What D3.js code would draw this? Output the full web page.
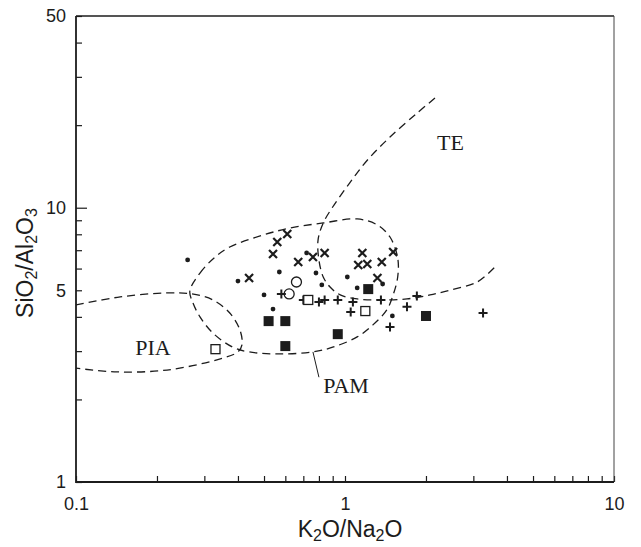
<!DOCTYPE html>
<html>
<head>
<meta charset="utf-8">
<script src="https://cdn.jsdelivr.net/npm/d3@7"></script>
<style>
  body { margin: 0; background: #fff; }
  svg { display: block; }
</style>
</head>
<body>
<svg id="chart"></svg>
<script>
// axis ticks
const xTickValues = [0.1, 0.2, 0.3, 0.4, 0.5, 0.6, 0.7, 0.8, 0.9, 1, 2, 3, 4, 5, 6, 7, 8, 9, 10];
const xTickLabels = [0.1, 1, 10];
const yTickValues = [1, 2, 3, 4, 5, 6, 7, 8, 9, 10, 20, 30, 40, 50];
const yTickLabels = [1, 5, 10, 50];

// samples: [K2O/Na2O, SiO2/Al2O3]
const dots = [
  [0.26, 6.45], [0.40, 5.40], [0.57, 5.83], [0.50, 4.81], [0.54, 4.27], [0.72, 6.84],
  [0.78, 5.78], [0.82, 5.23], [1.02, 5.59], [1.11, 5.10], [1.38, 5.27], [1.50, 4.03]
];
const crosses = [
  [0.61, 8.02], [0.56, 7.50], [0.54, 6.78], [0.44, 5.54], [0.67, 6.34], [0.76, 6.61],
  [0.84, 6.84], [1.16, 6.84], [1.12, 6.18], [1.21, 6.23], [1.37, 6.34], [1.51, 6.90],
  [1.32, 5.54]
];
const pluses = [
  [0.58, 4.85], [0.70, 4.61], [0.80, 4.53], [0.84, 4.61], [0.94, 4.61], [1.07, 4.53],
  [1.05, 4.17], [1.36, 4.61], [1.70, 4.35], [1.85, 4.77], [1.47, 3.67], [3.26, 4.13]
];
const openCircles = [[0.66, 5.36], [0.62, 4.85]];
const openSquares = [[0.33, 3.05], [0.73, 4.61], [1.19, 4.20]];
const filledSquares = [[0.52, 3.86], [0.60, 3.86], [0.60, 3.13], [0.94, 3.46], [1.22, 5.05], [2.0, 4.03]];

// field boundaries
const teLine = [
  [2.16, 25.1], [1.85, 22.1], [1.47, 18.1], [1.21, 14.9], [1.04, 12.3], [0.90, 10.06],
  [0.83, 8.80], [0.794, 7.62], [0.80, 6.45], [0.83, 5.59], [0.88, 5.14], [0.96, 4.81],
  [1.11, 4.65], [1.35, 4.61], [1.70, 4.65], [2.07, 4.81], [2.46, 5.01], [3.10, 5.36], [3.67, 6.18]
];
const pamField = [
  [0.265, 4.97], [0.289, 5.78], [0.329, 6.61], [0.373, 7.19], [0.496, 7.95], [0.624, 8.43],
  [0.83, 8.80], [1.11, 9.10], [1.32, 8.65], [1.47, 7.82], [1.57, 6.56], [1.57, 5.59],
  [1.51, 4.81], [1.43, 4.24], [1.27, 3.74], [1.11, 3.38], [0.90, 3.10], [0.76, 2.98],
  [0.57, 2.93], [0.44, 2.98], [0.383, 3.10], [0.323, 3.49], [0.289, 4.00], [0.272, 4.50]
];
const piaField = [
  [0.1, 4.42], [0.146, 4.73], [0.218, 4.89], [0.270, 4.85], [0.323, 4.61], [0.373, 4.13],
  [0.407, 3.58], [0.414, 3.16], [0.400, 2.98], [0.334, 2.79], [0.218, 2.56], [0.142, 2.52],
  [0.1, 2.60]
];
const pamLeader = [[0.76, 2.98], [0.80, 2.41]];

const fieldLabels = [
  {name: 'TE', x: 2.2, y: 16.2},
  {name: 'PIA', x: 0.166, y: 2.90},
  {name: 'PAM', x: 0.83, y: 2.11}
];

const W = 641, H = 547;
const margin = {top: 16, left: 76, right: 27, bottom: 65};
const width = W - margin.left - margin.right;
const height = H - margin.top - margin.bottom;
const ink = '#1c1c1c';

const svg = d3.select('#chart')
  .attr('width', W)
  .attr('height', H)
  .append('g')
  .attr('transform', `translate(${margin.left}, ${margin.top})`);

const x = d3.scaleLog().domain([0.1, 10]).range([0, width]);
const y = d3.scaleLog().domain([1, 50]).range([height, 0]);

svg.append('clipPath').attr('id', 'plot-clip')
  .append('rect').attr('width', width).attr('height', height);

// axes (ticks point inward)
const xAxis = svg.append('g')
  .attr('transform', `translate(0, ${height})`)
  .call(d3.axisBottom(x)
    .tickValues(xTickValues)
    .tickSize(-6)
    .tickPadding(15)
    .tickFormat(d => xTickLabels.includes(d) ? String(d) : ''));

const yAxis = svg.append('g')
  .call(d3.axisLeft(y)
    .tickValues(yTickValues)
    .tickSize(-6)
    .tickPadding(10)
    .tickFormat(d => yTickLabels.includes(d) ? String(d) : ''));

yAxis.selectAll('.tick line').filter(d => d === 10).attr('x2', 11);

[xAxis, yAxis].forEach(a => {
  a.select('.domain').remove();
  a.selectAll('.tick line').attr('stroke', ink).attr('stroke-width', 1.2);
  a.selectAll('.tick text')
    .attr('fill', ink)
    .style('font-family', '"Liberation Sans", Arial, sans-serif')
    .style('font-size', '18px');
});

// frame
svg.append('path')
  .attr('d', `M0,0H${width}`)
  .attr('stroke', ink).attr('stroke-width', 1.5);
svg.append('path')
  .attr('d', `M${width},0V${height}`)
  .attr('stroke', '#444').attr('stroke-width', 1);
svg.append('path')
  .attr('d', `M0,0V${height}H${width}`)
  .attr('fill', 'none')
  .attr('stroke', ink).attr('stroke-width', 1.8);

// axis titles
const xTitle = svg.append('text')
  .attr('x', 274)
  .attr('y', 521)
  .attr('text-anchor', 'middle')
  .attr('fill', ink)
  .style('font-family', '"Liberation Sans", Arial, sans-serif')
  .style('font-size', '23px');
xTitle.append('tspan').text('K');
xTitle.append('tspan').attr('baseline-shift', '-25%').style('font-size', '16px').text('2');
xTitle.append('tspan').text('O/Na');
xTitle.append('tspan').attr('baseline-shift', '-25%').style('font-size', '16px').text('2');
xTitle.append('tspan').text('O');

const yTitle = svg.append('text')
  .attr('transform', `translate(${33 - margin.left}, ${263 - margin.top}) rotate(-90)`)
  .attr('text-anchor', 'middle')
  .attr('fill', ink)
  .style('font-family', '"Liberation Sans", Arial, sans-serif')
  .style('font-size', '23px');
yTitle.append('tspan').text('SiO');
yTitle.append('tspan').attr('baseline-shift', '-25%').style('font-size', '16px').text('2');
yTitle.append('tspan').text('/Al');
yTitle.append('tspan').attr('baseline-shift', '-25%').style('font-size', '16px').text('2');
yTitle.append('tspan').text('O');
yTitle.append('tspan').attr('baseline-shift', '-25%').style('font-size', '16px').text('3');

// field boundaries
const fields = svg.append('g')
  .attr('clip-path', 'url(#plot-clip)')
  .attr('fill', 'none')
  .attr('stroke', ink)
  .attr('stroke-width', 1.3)
  .attr('stroke-dasharray', '8,5');

const openLine = d3.line()
  .x(d => x(d[0])).y(d => y(d[1]))
  .curve(d3.curveCatmullRom.alpha(0.5));
const closedLine = d3.line()
  .x(d => x(d[0])).y(d => y(d[1]))
  .curve(d3.curveCatmullRomClosed.alpha(0.5));

fields.append('path').attr('d', openLine(teLine));
fields.append('path').attr('d', closedLine(pamField));
fields.append('path').attr('d', openLine(piaField));

svg.append('path')
  .attr('d', d3.line().x(d => x(d[0])).y(d => y(d[1]))(pamLeader))
  .attr('stroke', ink)
  .attr('stroke-width', 1);

svg.selectAll('.field-label')
  .data(fieldLabels)
  .enter()
  .append('text')
  .attr('x', d => x(d.x))
  .attr('y', d => y(d.y))
  .attr('fill', ink)
  .style('font-family', '"Liberation Serif", "Times New Roman", serif')
  .style('font-size', '22px')
  .text(d => d.name);

// samples
const pos = d => `translate(${x(d[0])}, ${y(d[1])})`;

svg.selectAll('.dot')
  .data(dots).enter().append('circle')
  .attr('transform', pos)
  .attr('r', 2.4)
  .attr('fill', ink);

svg.selectAll('.cross')
  .data(crosses).enter().append('path')
  .attr('transform', pos)
  .attr('d', 'M-4,-4L4,4M-4,4L4,-4')
  .attr('stroke', ink)
  .attr('stroke-width', 2.2);

svg.selectAll('.plus')
  .data(pluses).enter().append('path')
  .attr('transform', pos)
  .attr('d', 'M-4.5,0H4.5M0,-4.5V4.5')
  .attr('stroke', ink)
  .attr('stroke-width', 2);

svg.selectAll('.ocircle')
  .data(openCircles).enter().append('circle')
  .attr('transform', pos)
  .attr('r', 5)
  .attr('fill', 'none')
  .attr('stroke', ink)
  .attr('stroke-width', 1.3);

svg.selectAll('.osquare')
  .data(openSquares).enter().append('rect')
  .attr('transform', pos)
  .attr('x', -4.5).attr('y', -4.5)
  .attr('width', 9).attr('height', 9)
  .attr('fill', '#fff')
  .attr('stroke', ink)
  .attr('stroke-width', 1.3);

svg.selectAll('.fsquare')
  .data(filledSquares).enter().append('rect')
  .attr('transform', pos)
  .attr('x', -5).attr('y', -5)
  .attr('width', 10).attr('height', 10)
  .attr('fill', ink);
</script>
</body>
</html>
